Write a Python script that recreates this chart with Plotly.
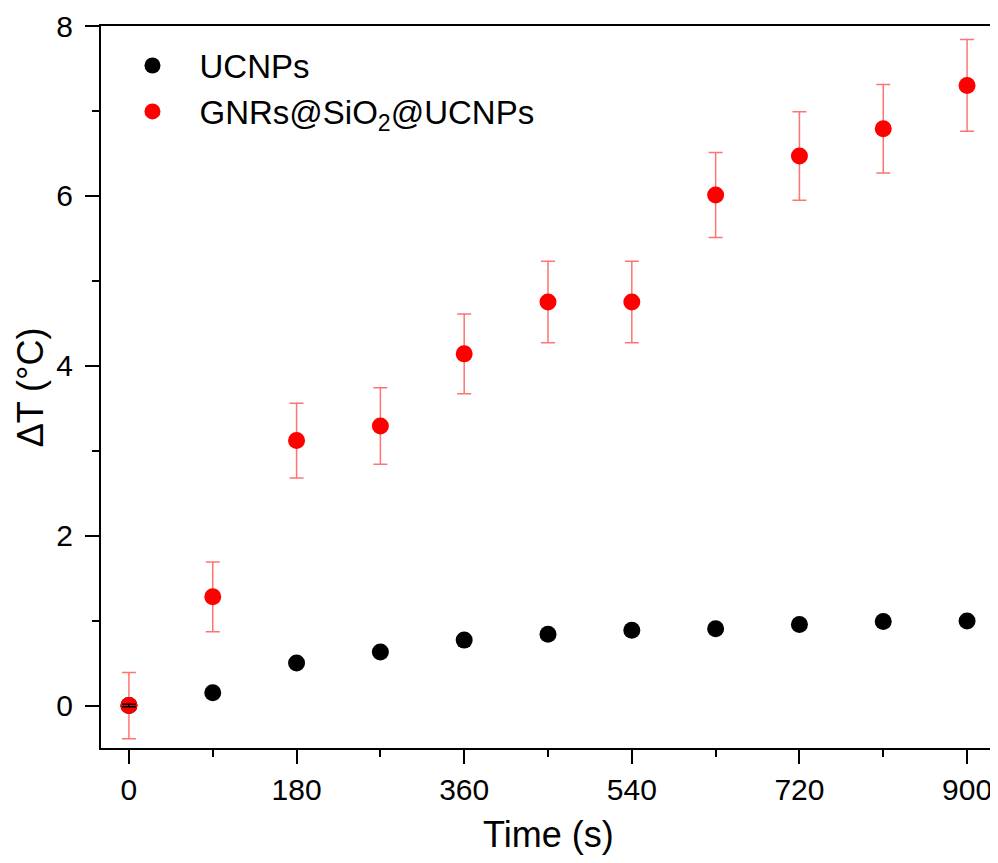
import plotly.graph_objects as go

time_s = [0, 90, 180, 270, 360, 450, 540, 630, 720, 810, 900]
ucnps = [0.0, 0.15, 0.50, 0.63, 0.77, 0.84, 0.885, 0.905, 0.955, 0.99, 0.995]
ucnps_err = [0.015, 0.015, 0.015, 0.015, 0.015, 0.015, 0.015, 0.015, 0.015, 0.015, 0.015]
gnrs = [0.0, 1.28, 3.12, 3.29, 4.14, 4.75, 4.75, 6.01, 6.47, 6.79, 7.30]
gnrs_err = [0.39, 0.41, 0.44, 0.45, 0.47, 0.48, 0.48, 0.50, 0.52, 0.52, 0.54]

FONT = "Liberation Sans, Arial, sans-serif"

fig = go.Figure()
fig.add_trace(go.Scatter(
    x=time_s, y=ucnps, mode="markers", name="UCNPs",
    marker=dict(color="black", size=17),
))
fig.add_trace(go.Scatter(
    x=time_s, y=gnrs, mode="markers", name="GNRs@SiO<sub>2</sub>@UCNPs",
    marker=dict(color="#ff0000", size=17),
    error_y=dict(type="data", array=gnrs_err, color="rgba(255,0,0,0.55)",
                 thickness=1.5, width=7),
))
fig.add_trace(go.Scatter(
    x=time_s, y=ucnps, mode="markers", showlegend=False, hoverinfo="skip",
    marker=dict(color="rgba(0,0,0,0)", size=17),
    error_y=dict(type="data", array=ucnps_err, color="black",
                 thickness=1.5, width=7),
))

axis_common = dict(
    showline=True, linecolor="black", linewidth=2, mirror=True,
    ticks="outside", ticklen=14, tickwidth=2, tickcolor="black",
    showgrid=False, zeroline=False, automargin=False,
    tickfont=dict(family=FONT, size=30, color="black"),
)

fig.update_xaxes(
    range=[-30, 930], tickvals=[0, 180, 360, 540, 720, 900],
    minor=dict(tickvals=[90, 270, 450, 630, 810], ticklen=7, tickwidth=2,
               tickcolor="black", ticks="outside"),
    **axis_common,
)
fig.update_yaxes(
    range=[-0.5, 8], tickvals=[0, 2, 4, 6, 8],
    minor=dict(tickvals=[1, 3, 5, 7], ticklen=7, tickwidth=2,
               tickcolor="black", ticks="outside"),
    ticklabelstandoff=6,
    **axis_common,
)

fig.add_annotation(
    text="Time (s)", xref="paper", yref="paper", x=0.5, y=-0.12,
    xanchor="center", yanchor="middle", showarrow=False,
    font=dict(family=FONT, size=36, color="black"),
)
fig.add_annotation(
    text="ΔT (°C)", xref="paper", yref="paper", x=-0.079, y=0.5,
    xanchor="center", yanchor="middle", showarrow=False, textangle=-90,
    font=dict(family=FONT, size=36, color="black"),
)

fig.update_layout(
    width=990, height=847,
    margin=dict(l=93, r=3, t=18, b=107),
    paper_bgcolor="white", plot_bgcolor="white",
    showlegend=True,
    legend=dict(x=0.005, y=0.984, xanchor="left", yanchor="top",
                bgcolor="rgba(0,0,0,0)",
                font=dict(family=FONT, size=33, color="black"),
                itemsizing="trace", itemwidth=84, tracegroupgap=0),
)

fig.write_html("out.html")
